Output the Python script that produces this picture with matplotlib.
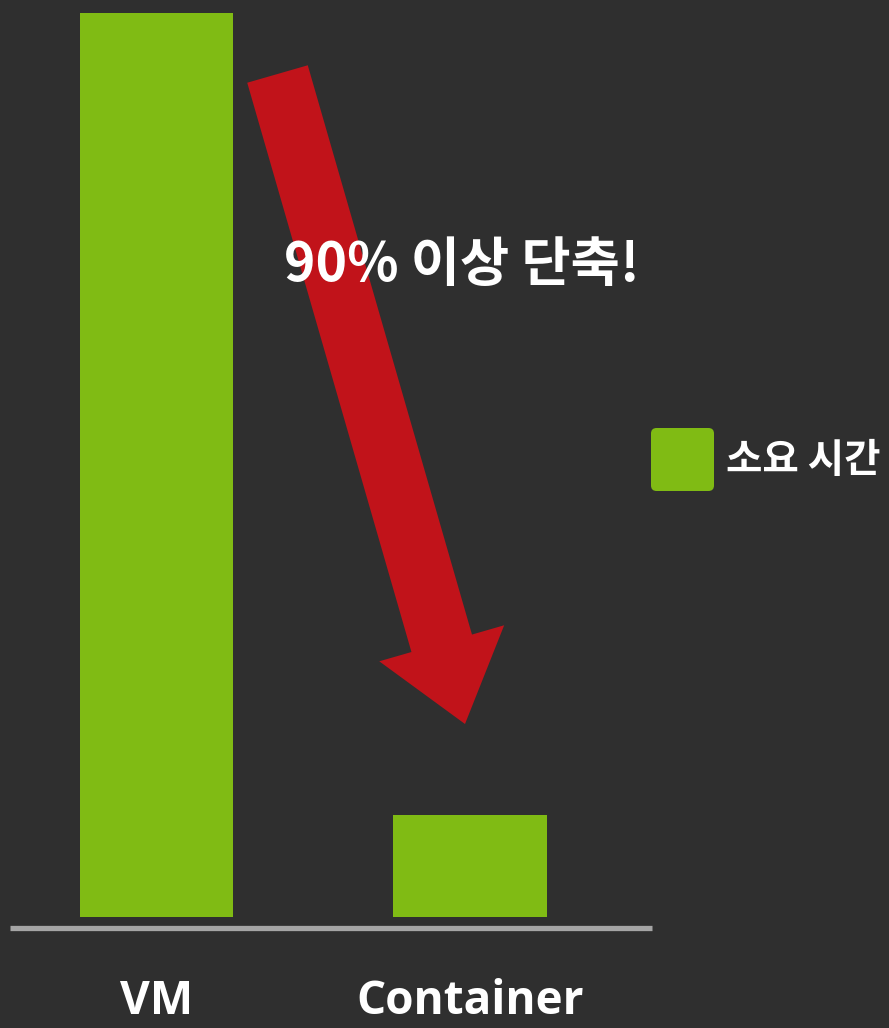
import matplotlib
matplotlib.use("Agg")
import matplotlib.pyplot as plt
from matplotlib.patches import FancyArrow, FancyBboxPatch
from matplotlib.legend_handler import HandlerPatch
from matplotlib.transforms import IdentityTransform

# ---- data ----
categories = ["VM", "Container"]
values = [100, 11.3]
series_label = "소요 시간"
annotation = "90% 이상 단축!"

BG = "#2f2f2f"
GREEN = "#80bb14"
RED = "#c1131a"
AXIS = "#a5a5a5"

W, H = 889, 1028
fig = plt.figure(figsize=(W / 100, H / 100), dpi=100, facecolor=BG)

# axes: bottom at bar base (y=917 px from top), top at figure top
ax = fig.add_axes([10 / W, (H - 917) / H, 642 / W, 917 / H])
ax.set_facecolor("none")

x = list(range(len(categories)))
bars = ax.bar(x, values, width=0.49, color=GREEN, linewidth=0, label=series_label, zorder=2)
ax.set_xlim(-0.467, 1.581)
ax.set_ylim(0, 100 * 917 / 904)

for s in ["top", "right", "left"]:
    ax.spines[s].set_visible(False)
ax.spines["bottom"].set_position(("outward", 8))
ax.spines["bottom"].set_color(AXIS)
ax.spines["bottom"].set_linewidth(3.8)
ax.spines["bottom"].set_capstyle("butt")
ax.set_yticks([])
ax.set_xticks(x)
ax.set_xticklabels(categories, fontfamily="Open Sans", fontweight="bold", fontsize=33, color="white")
ax.tick_params(axis="x", length=0, pad=36)


def rounded_square(legend, orig_handle, xdescent, ydescent, width, height, fontsize):
    return FancyBboxPatch((-xdescent, -ydescent), width, height,
                          boxstyle="round,pad=0,rounding_size=4")


# legend
fs = 28.5
fs_px = fs * 100 / 72
leg = ax.legend(
    handles=[bars[0]], labels=[series_label],
    loc="center left", bbox_to_anchor=(651 / W, 1 - 459.5 / H),
    bbox_transform=fig.transFigure, frameon=False,
    prop={"family": ["Noto Sans CJK KR", "DejaVu Sans"], "weight": "bold", "size": fs},
    handlelength=63 / fs_px, handleheight=(63 / fs_px - 0.245) / 0.65,
    handletextpad=12 / fs_px,
    borderpad=0, borderaxespad=0,
    handler_map={type(bars[0]): HandlerPatch(patch_func=rounded_square)},
)
for t in leg.get_texts():
    t.set_color("white")

# red arrow (pixel coordinates, y up)
x0, y0 = 277.5, H - 74
tipx, tipy = 465, H - 724
arrow = FancyArrow(x0, y0, tipx - x0, tipy - y0, width=63, head_width=130,
                   head_length=84, length_includes_head=True,
                   transform=IdentityTransform(), color=RED, linewidth=0, zorder=3)
fig.add_artist(arrow)

fig.text(462 / W, 1 - 281 / H, annotation, ha="center", va="baseline",
         fontsize=38.5, fontweight="bold", color="white",
         family=["Noto Sans CJK KR", "DejaVu Sans"], zorder=5)

fig.savefig("out.png", dpi=100, facecolor=BG)
